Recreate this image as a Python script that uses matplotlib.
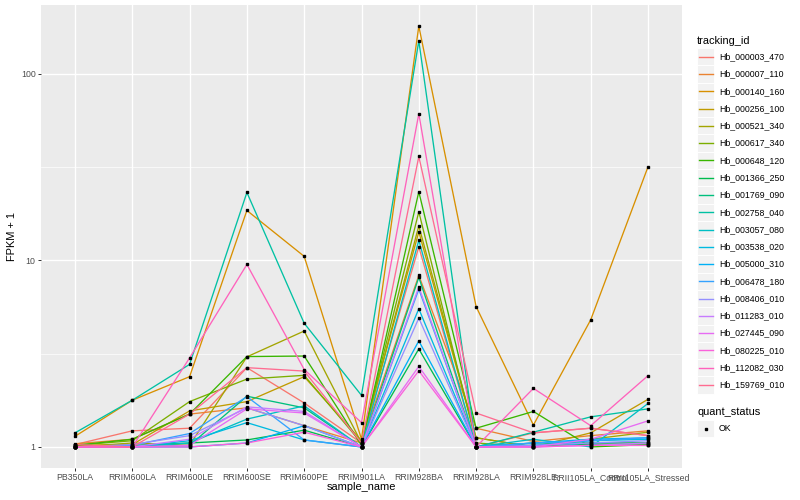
import numpy as np
import matplotlib
matplotlib.use('Agg')
import matplotlib.pyplot as plt
from matplotlib.lines import Line2D
from matplotlib.patches import Rectangle
from matplotlib.ticker import FixedLocator, NullFormatter

plt.rcParams['font.family'] = ['Liberation Sans', 'DejaVu Sans']

samples = ['PB350LA', 'RRIM600LA', 'RRIM600LE', 'RRIM600SE', 'RRIM600PE',
           'RRIM901LA', 'RRIM928BA', 'RRIM928LA', 'RRIM928LE',
           'RRII105LA_Control', 'RRII105LA_Stressed']

genes = ['Hb_000003_470', 'Hb_000007_110', 'Hb_000140_160', 'Hb_000256_100',
         'Hb_000521_340', 'Hb_000617_340', 'Hb_000648_120', 'Hb_001366_250',
         'Hb_001769_090', 'Hb_002758_040', 'Hb_003057_080', 'Hb_003538_020',
         'Hb_005000_310', 'Hb_006478_180', 'Hb_008406_010', 'Hb_011283_010',
         'Hb_027445_090', 'Hb_080225_010', 'Hb_112082_030', 'Hb_159769_010']

# ggplot default hue palette for 20 groups
colors = ['#F8766D', '#EA8331', '#D89000', '#C09B00', '#A3A500', '#7CAE00',
          '#39B600', '#00BB4E', '#00BF7D', '#00C1A3', '#00BFC4', '#00BAE0',
          '#00B0F6', '#35A2FF', '#9590FF', '#C77CFF', '#E76BF3', '#FA62DB',
          '#FF62BC', '#FF6C91']

# FPKM + 1, one row per gene, columns in the order of samples
fpkm1 = [
    [1.03, 1.22, 1.26, 2.66, 1.72, 1.05, 11.8, 1.00, 1.19, 1.26, 1.15],
    [1.04, 1.10, 1.50, 1.62, 1.30, 1.05, 8.3, 1.26, 1.07, 1.15, 1.22],
    [1.14, 1.78, 2.38, 18.5, 10.5, 1.10, 180, 5.65, 1.31, 4.8, 31.7],
    [1.02, 1.03, 1.56, 1.75, 2.38, 1.08, 14.2, 1.12, 1.00, 1.19, 1.80],
    [1.00, 1.05, 1.02, 3.04, 4.18, 1.05, 15.3, 1.12, 1.00, 1.10, 1.20],
    [1.02, 1.08, 1.75, 2.31, 2.42, 1.05, 18.2, 1.05, 1.00, 1.05, 1.05],
    [1.02, 1.10, 1.50, 3.05, 3.07, 1.02, 23.3, 1.26, 1.55, 1.00, 1.03],
    [1.00, 1.02, 1.05, 1.09, 1.23, 1.00, 3.35, 1.00, 1.02, 1.03, 1.02],
    [1.00, 1.00, 1.02, 1.87, 1.62, 1.00, 8.1, 1.00, 1.05, 1.05, 1.05],
    [1.19, 1.78, 2.77, 23.1, 4.6, 1.89, 150, 1.00, 1.20, 1.45, 1.60],
    [1.00, 1.00, 1.05, 1.41, 1.66, 1.00, 12.8, 1.00, 1.10, 1.00, 1.71],
    [1.00, 1.00, 1.08, 1.35, 1.09, 1.00, 5.5, 1.00, 1.02, 1.08, 1.10],
    [1.00, 1.00, 1.00, 1.05, 1.30, 1.00, 3.7, 1.00, 1.05, 1.10, 1.12],
    [1.00, 1.02, 1.18, 1.86, 1.09, 1.00, 7.0, 1.00, 1.05, 1.08, 1.12],
    [1.00, 1.03, 1.15, 1.62, 1.30, 1.00, 4.9, 1.00, 1.02, 1.05, 1.08],
    [1.00, 1.00, 1.10, 1.64, 1.55, 1.00, 7.2, 1.00, 1.00, 1.02, 1.05],
    [1.00, 1.00, 1.02, 1.60, 1.52, 1.00, 2.7, 1.00, 1.00, 1.10, 1.38],
    [1.00, 1.00, 1.00, 1.05, 1.20, 1.00, 2.56, 1.00, 1.00, 1.02, 1.02],
    [1.00, 1.00, 3.00, 9.5, 2.60, 1.35, 61, 1.00, 2.06, 1.30, 2.41],
    [1.03, 1.00, 1.50, 2.66, 2.55, 1.05, 36, 1.52, 1.19, 1.26, 1.15],
]

status_labels = ['OK']

W, H = 800, 500


def fx(px):
    return px / W


def fy(py):
    return 1 - py / H


fig = plt.figure(figsize=(W / 100, H / 100), dpi=100)
ax = fig.add_axes([fx(40.6), fy(468), fx(682.4) - fx(40.6), fy(5) - fy(468)])
ax.set_facecolor('#EBEBEB')

x = np.arange(len(samples))
for c, vals in zip(colors, fpkm1):
    ax.plot(x, vals, color=c, lw=0.95, zorder=2)
for vals in fpkm1:
    ax.plot(x, vals, ls='none', marker='s', ms=2.1, color='black', zorder=3)

ax.set_yscale('log')
allv = np.array(fpkm1)
lo, hi = np.log10(allv.min()), np.log10(allv.max())
pad = 0.05 * (hi - lo)
ax.set_ylim(10 ** (lo - pad), 10 ** (hi + pad))
ax.set_xlim(-0.6, len(samples) - 0.4)

ax.yaxis.set_major_locator(FixedLocator([1, 10, 100]))
ax.yaxis.set_minor_locator(FixedLocator([10 ** 0.5, 10 ** 1.5]))
ax.yaxis.set_minor_formatter(NullFormatter())
ax.set_yticklabels(['1', '10', '100'])
ax.set_xticks(x)
ax.set_xticklabels(samples)

ax.grid(which='major', color='white', lw=1.0)
ax.grid(which='minor', axis='y', color='white', lw=0.5)
ax.set_axisbelow(True)
for s in ax.spines.values():
    s.set_visible(False)
ax.tick_params(which='major', length=2.0, width=0.7, color='#333333',
               labelcolor='#4D4D4D', labelsize=6.3, pad=1.6)
ax.tick_params(which='minor', length=0)

fig.text(fx(361.5), fy(487), 'sample_name', fontsize=7.9, ha='center', va='center')
fig.text(fx(12), fy(236.5), 'FPKM + 1', fontsize=7.9, ha='center', va='center',
         rotation=90)

# legends
key = 17.28
fig.text(fx(697), fy(40.7), 'tracking_id', fontsize=7.9, ha='left', va='center')
for i, (g, c) in enumerate(zip(genes, colors)):
    yc = 56.7 + i * key
    fig.add_artist(Rectangle((fx(697), fy(yc + key / 2)), key / W, key / H,
                             transform=fig.transFigure, facecolor='#F2F2F2',
                             edgecolor='white', lw=0.7))
    fig.add_artist(Line2D([fx(698.7), fx(712.6)], [fy(yc), fy(yc)],
                          transform=fig.transFigure, color=c, lw=1.0))
    fig.text(fx(719), fy(yc), g, fontsize=6.3, ha='left', va='center')

fig.text(fx(697), fy(412), 'quant_status', fontsize=7.9, ha='left', va='center')
for i, lab in enumerate(status_labels):
    yc = 428.7 + i * key
    fig.add_artist(Rectangle((fx(697), fy(yc + key / 2)), key / W, key / H,
                             transform=fig.transFigure, facecolor='#F2F2F2',
                             edgecolor='white', lw=0.7))
    fig.add_artist(Line2D([fx(697 + key / 2)], [fy(yc)], transform=fig.transFigure,
                          ls='none', marker='s', ms=2.1, color='black'))
    fig.text(fx(719), fy(yc), lab, fontsize=6.3, ha='left', va='center')

fig.savefig('out.png', dpi=100, facecolor='white')
